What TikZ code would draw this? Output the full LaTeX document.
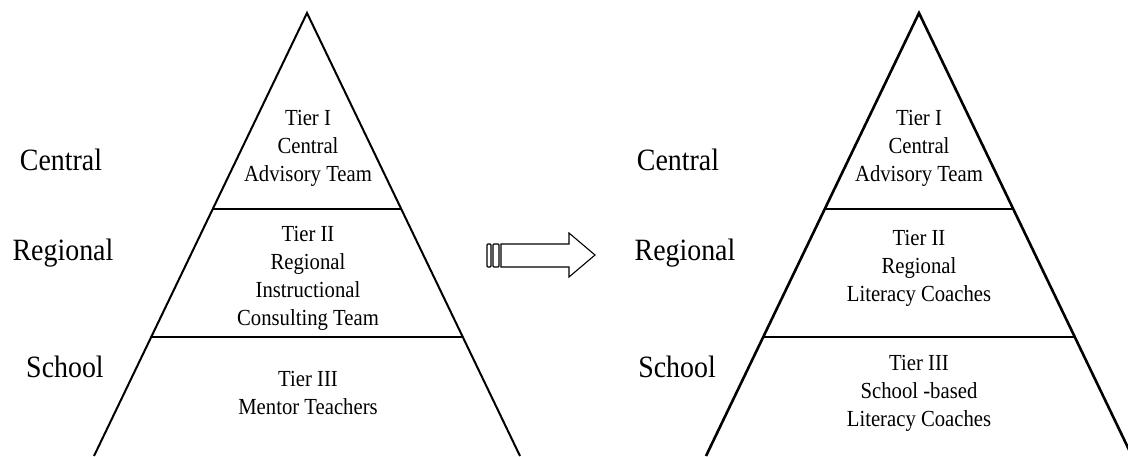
\documentclass[tikz,border=0pt]{standalone}
\usepackage{fontspec}
\setmainfont[FakeStretch=0.9]{Liberation Serif}
\usetikzlibrary{calc}
\begin{document}
\begin{tikzpicture}[x=1pt,y=-1pt,
  side/.style={line width=2pt},
  sideR/.style={line width=2.6pt},
  tierline/.style={line width=1.3pt},
  outer/.style={font=\fontsize{31}{34}\selectfont, inner sep=0pt, anchor=center},
  inner/.style={font=\fontsize{23}{28}\selectfont, align=center, inner sep=0pt, anchor=center},
  arrowpart/.style={draw, line width=1.1pt, fill=white}]
\useasboundingbox (0,0) rectangle (1128,456);
\clip (0,0) rectangle (1128,456);
% left pyramid
\coordinate (apexL) at (307,13);
\coordinate (blL) at (94,456);
\coordinate (brL) at (520,456);
\draw[side] (blL) -- (apexL) -- (brL);
\coordinate (l1a) at ($(apexL)!0.4424!(blL)$);
\coordinate (l1b) at ($(apexL)!0.4424!(brL)$);
\coordinate (l2a) at ($(apexL)!0.7314!(blL)$);
\coordinate (l2b) at ($(apexL)!0.7314!(brL)$);
\draw[tierline] (l1a) -- (l1b);
\draw[tierline] (l2a) -- (l2b);
\node[outer] (cL) at (61,160) {Central};
\node[outer] (rL) at (63,253) {Regional};
\node[outer] (sL) at (65,367) {School};
\node[inner] (t1L) at (308,148) {Tier I\\Central\\Advisory Team};
\node[inner] (t2L) at (308,278) {Tier II\\Regional\\Instructional\\Consulting Team};
\node[inner] (t3L) at (308,393) {Tier III\\Mentor Teachers};
% arrow
\draw[arrowpart, rounded corners=1pt] (487,244) rectangle (491,267);
\draw[arrowpart, rounded corners=1pt] (493,244) rectangle (499,267);
\draw[arrowpart] (501,244) -- (569,244) -- (569,233) -- (595,255) -- (569,277) -- (569,267) -- (501,267) -- cycle;
% right pyramid
\coordinate (apexR) at (919,13);
\coordinate (blR) at (706,456);
\coordinate (brR) at (1132,456);
\draw[sideR] (blR) -- (apexR) -- (brR);
\coordinate (r1a) at ($(apexR)!0.4424!(blR)$);
\coordinate (r1b) at ($(apexR)!0.4424!(brR)$);
\coordinate (r2a) at ($(apexR)!0.7314!(blR)$);
\coordinate (r2b) at ($(apexR)!0.7314!(brR)$);
\draw[tierline] (r1a) -- (r1b);
\draw[tierline] (r2a) -- (r2b);
\node[outer] (cR) at (678,160) {Central};
\node[outer] (rR) at (685,253) {Regional};
\node[outer] (sR) at (677,367) {School};
\node[inner] (t1R) at (919,148) {Tier I\\Central\\Advisory Team};
\node[inner] (t2R) at (919,268) {Tier II\\Regional\\Literacy Coaches};
\node[inner] (t3R) at (919,393) {Tier III\\School -based\\Literacy Coaches};
\end{tikzpicture}
\end{document}
